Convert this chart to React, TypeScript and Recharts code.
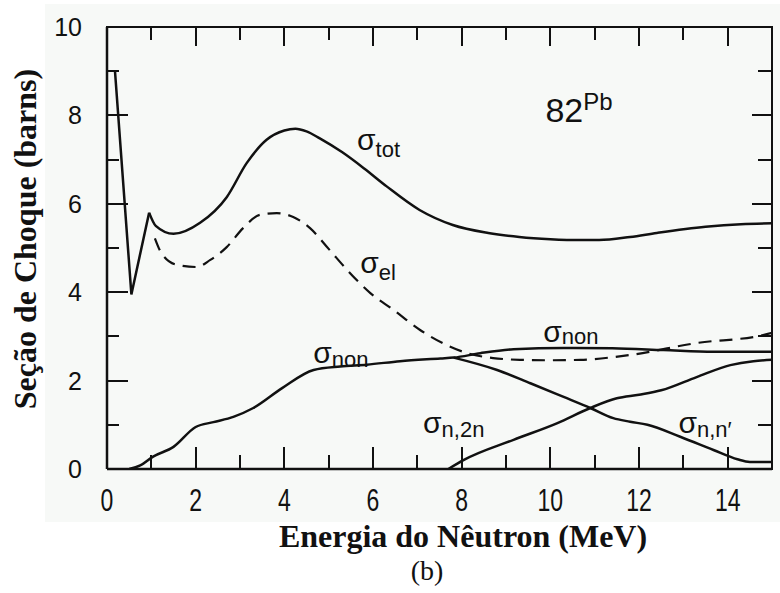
import { LineChart, Line, XAxis, YAxis, ReferenceDot } from 'recharts';

// energies in MeV, cross sections in barns
const TOT_SPIKE_E = [0.18, 0.55, 0.95];
const TOT_SPIKE_S = [9.0, 3.95, 5.8];

const TOT_E = [0.95, 1.1, 1.5, 2.1, 2.7, 3.15, 3.6, 4.0, 4.25, 4.5, 4.8, 5.3, 5.8, 6.3, 7.05, 7.8, 8.6, 9.3, 10.0, 10.7, 11.1, 11.8, 12.4, 13.5, 14.3, 15];
const TOT_S = [5.8, 5.5, 5.32, 5.57, 6.15, 6.92, 7.45, 7.66, 7.7, 7.64, 7.48, 7.17, 6.8, 6.4, 5.86, 5.52, 5.34, 5.25, 5.2, 5.18, 5.18, 5.25, 5.34, 5.48, 5.54, 5.56];

const EL_E = [1.08, 1.23, 1.57, 2.02, 2.33, 2.7, 3.07, 3.45, 3.83, 4.2, 4.58, 5.0, 5.42, 5.94, 6.46, 7.07, 7.67, 8.13, 8.71, 9.32, 9.93, 10.68, 11.8, 13.3, 14.8, 15];
const EL_S = [5.22, 4.88, 4.62, 4.57, 4.73, 5.02, 5.45, 5.75, 5.79, 5.7, 5.45, 4.98, 4.5, 3.98, 3.6, 3.14, 2.8, 2.62, 2.51, 2.47, 2.46, 2.47, 2.58, 2.85, 3.03, 3.08];

const NON_E = [0.5, 0.75, 1.04, 1.5, 2.0, 2.4, 2.85, 3.3, 3.95, 4.66, 5.26, 5.86, 6.61, 7.52, 7.82, 8.42, 9.17, 10.3, 11.4, 12.55, 13.68, 15];
const NON_S = [0, 0.08, 0.28, 0.5, 0.95, 1.06, 1.18, 1.38, 1.83, 2.24, 2.32, 2.36, 2.44, 2.5, 2.52, 2.62, 2.71, 2.74, 2.73, 2.69, 2.65, 2.65];

const NNP_E = [7.82, 8.8, 9.55, 10.3, 10.9, 11.42, 11.8, 12.19, 12.93, 13.68, 14.22, 14.5, 15];
const NNP_S = [2.52, 2.24, 1.94, 1.63, 1.38, 1.15, 1.07, 1.0, 0.73, 0.43, 0.22, 0.16, 0.16];

const N2N_E = [7.7, 8.04, 9.17, 10.16, 10.9, 11.5, 12.0, 12.5, 13.3, 14.06, 14.58, 15];
const N2N_S = [0, 0.2, 0.66, 1.04, 1.38, 1.6, 1.68, 1.78, 2.08, 2.35, 2.44, 2.47];

const X_TICKS = [0, 1, 2, 3, 4, 5, 6, 7, 8, 9, 10, 11, 12, 13, 14];
const Y_TICKS = [0, 1, 2, 3, 4, 5, 6, 7, 8, 9, 10];
const X_MAX = 15;
const Y_MAX = 10;

// chart box (page pixels); the Recharts plot area lands exactly here
const W = 780;
const H = 593;
const LEFT = 107;
const TOP = 27;
const RIGHT_GAP = 8;
const BOTTOM_AXIS = 124;
const PLOT_W = W - RIGHT_GAP - LEFT;
const PLOT_H = H - TOP - BOTTOM_AXIS;
const px = (e: number) => LEFT + (e / X_MAX) * PLOT_W;
const py = (s: number) => TOP + PLOT_H - (s / Y_MAX) * PLOT_H;

const toPoints = (es: number[], ss: number[]) => es.map((e, i) => ({ e, s: ss[i] }));

const SANS = 'Liberation Sans, Arial, Helvetica, sans-serif';
const SERIF = 'Liberation Serif, Times New Roman, serif';
const INK = '#111';

const isMajor = (v: number) => v % 2 === 0;

function BottomTick({ x, y, payload }: any) {
  const v = payload.value;
  if (!isMajor(v)) return <g />;
  return (
    <text transform={`translate(${x},${y + 42}) scale(1,1.35)`} textAnchor="middle" fontSize={23} fontFamily={SANS} fill={INK}>
      {v}
    </text>
  );
}

function LeftTick({ x, y, payload }: any) {
  const v = payload.value;
  if (!isMajor(v)) return <g />;
  return (
    <text x={x - 25} y={y + 9} textAnchor="end" fontSize={25} fontFamily={SANS} fill={INK}>
      {v}
    </text>
  );
}

function sigmaLabel(sub: string, dy = 6) {
  return ({ cx, cy }: any) => (
    <text x={cx} y={cy} fontSize={30} fontFamily={SANS} fill={INK}>
      σ
      <tspan fontSize={22} dy={dy}>
        {sub}
      </tspan>
    </text>
  );
}

const elementLabel = ({ cx, cy }: any) => (
  <text x={cx} y={cy} fontSize={34} fontFamily={SANS} fill={INK}>
    82
    <tspan fontSize={24} dy={-12}>
      Pb
    </tspan>
  </text>
);

const bar = (key: string, left: number, top: number, width: number, height: number) => (
  <div key={key} style={{ position: 'absolute', left, top, width, height, background: INK }} />
);

// top/right edges of the box and inward tick marks on all four sides
function Frame() {
  const xt = X_TICKS.filter((v) => v > 0);
  const yt = Y_TICKS.filter((v) => v > 0 && v < Y_MAX);
  const T = 2.5;
  const t = 2;
  return (
    <div style={{ position: 'absolute', left: 0, top: 0, width: W, height: H, pointerEvents: 'none' }}>
      {bar('top', LEFT - T / 2, TOP - T / 2, PLOT_W + T, T)}
      {bar('right', LEFT + PLOT_W - T / 2, TOP - T / 2, T, PLOT_H + T)}
      {xt.map((v) => {
        const len = isMajor(v) ? 22 : 14;
        return bar(`b${v}`, px(v) - t / 2, py(0) - len, t, len);
      })}
      {xt.map((v) => {
        const len = isMajor(v) ? 19 : 13;
        return bar(`t${v}`, px(v) - t / 2, py(Y_MAX), t, len);
      })}
      {yt.map((v) => {
        const len = isMajor(v) ? 21 : 12;
        return bar(`l${v}`, px(0), py(v) - t / 2, len, t);
      })}
      {yt.map((v) => {
        const len = isMajor(v) ? 20 : 14;
        return bar(`r${v}`, px(X_MAX) - len, py(v) - t / 2, len, t);
      })}
    </div>
  );
}

export default function App() {
  const lineProps = {
    dataKey: 's',
    stroke: INK,
    strokeWidth: 2.5,
    dot: false,
    activeDot: false,
    isAnimationActive: false,
  } as const;

  return (
    <div style={{ position: 'absolute', left: 0, top: 0, width: W, height: H, background: '#fff' }}>
      <div style={{ position: 'absolute', left: 45, top: 4, width: 735, height: 518, background: '#f7f9f7' }} />
      <div style={{ position: 'absolute', left: 0, top: 0 }}>
        <LineChart width={W} height={H} margin={{ top: TOP, right: RIGHT_GAP, bottom: 0, left: 0 }}>
          <XAxis
            dataKey="e"
            type="number"
            domain={[0, X_MAX]}
            ticks={X_TICKS}
            interval={0}
            allowDataOverflow
            height={BOTTOM_AXIS}
            tickSize={0}
            tickMargin={0}
            tickLine={false}
            tick={<BottomTick />}
            axisLine={{ stroke: INK, strokeWidth: 2.5 }}
          />
          <YAxis
            type="number"
            domain={[0, Y_MAX]}
            ticks={Y_TICKS}
            interval={0}
            allowDataOverflow
            width={LEFT}
            tickSize={0}
            tickMargin={0}
            tickLine={false}
            tick={<LeftTick />}
            axisLine={{ stroke: INK, strokeWidth: 2.5 }}
          />

          <Line {...lineProps} data={toPoints(TOT_SPIKE_E, TOT_SPIKE_S)} type="linear" strokeLinejoin="miter" />
          <Line {...lineProps} data={toPoints(TOT_E, TOT_S)} type="monotone" />
          <Line {...lineProps} data={toPoints(EL_E, EL_S)} type="monotone" strokeDasharray="13 8" strokeWidth={2.2} />
          <Line {...lineProps} data={toPoints(NON_E, NON_S)} type="monotone" />
          <Line {...lineProps} data={toPoints(NNP_E, NNP_S)} type="monotone" />
          <Line {...lineProps} data={toPoints(N2N_E, N2N_S)} type="monotone" />

          <ReferenceDot x={5.64} y={7.22} r={0} shape={sigmaLabel('tot', 7)} />
          <ReferenceDot x={5.71} y={4.43} r={0} shape={sigmaLabel('el', 7)} />
          <ReferenceDot x={4.65} y={2.4} r={0} shape={sigmaLabel('non', 4)} />
          <ReferenceDot x={9.84} y={2.87} r={0} shape={sigmaLabel('non', 2)} />
          <ReferenceDot x={7.13} y={0.81} r={0} shape={sigmaLabel('n,2n', 4)} />
          <ReferenceDot x={12.89} y={0.81} r={0} shape={sigmaLabel('n,n′', 4)} />
          <ReferenceDot x={9.89} y={7.85} r={0} shape={elementLabel} />
        </LineChart>
      </div>
      <Frame />
      <svg width={W} height={H} style={{ position: 'absolute', left: 0, top: 0, pointerEvents: 'none' }}>
        <text transform="translate(36,239) rotate(-90)" textAnchor="middle" fontSize={32} fontWeight="bold" fontFamily={SERIF} fill={INK}>
          Seção de Choque (barns)
        </text>
        <text x={463} y={547} textAnchor="middle" fontSize={32} fontWeight="bold" fontFamily={SERIF} fill={INK}>
          Energia do Nêutron (MeV)
        </text>
        <text x={427} y={580} textAnchor="middle" fontSize={28} fontFamily={SERIF} fill={INK}>
          (b)
        </text>
      </svg>
    </div>
  );
}
